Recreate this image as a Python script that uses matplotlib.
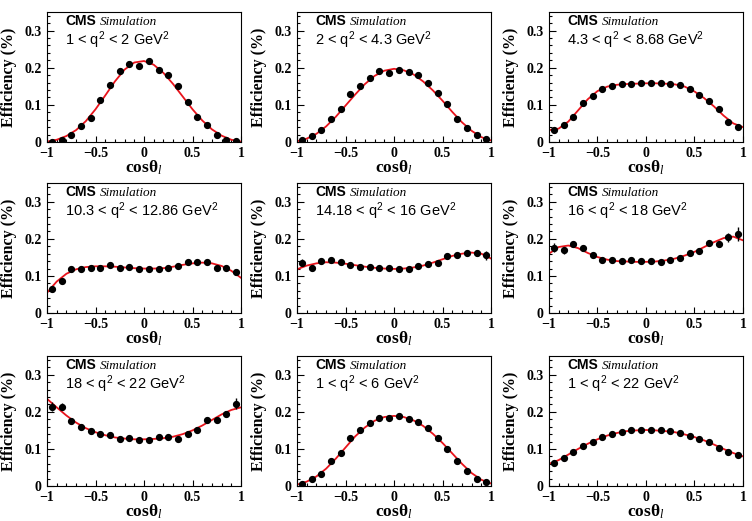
import matplotlib
matplotlib.use("Agg")
import matplotlib.pyplot as plt
from matplotlib.ticker import MultipleLocator, FuncFormatter

plt.rcParams['mathtext.fontset'] = 'custom'
plt.rcParams['mathtext.rm'] = 'Liberation Serif'
plt.rcParams['mathtext.it'] = 'Liberation Serif:italic'
plt.rcParams['mathtext.bf'] = 'Liberation Serif:bold'
plt.rcParams['mathtext.sf'] = 'Liberation Sans'

bin_centres = [-0.95, -0.85, -0.75, -0.65, -0.55, -0.45, -0.35, -0.25, -0.15, -0.05,
               0.05, 0.15, 0.25, 0.35, 0.45, 0.55, 0.65, 0.75, 0.85, 0.95]
curve_x = [-1.0, -0.9, -0.8, -0.7, -0.6, -0.5, -0.4, -0.3, -0.2, -0.1, 0.0,
           0.1, 0.2, 0.3, 0.4, 0.5, 0.6, 0.7, 0.8, 0.9, 1.0]

labels = ["1 < q$\\mathsf{^2}$ < 2 GeV$\\mathsf{^2}$",
          "2 < q$\\mathsf{^2}$ < 4.3 GeV$\\mathsf{^2}$",
          "4.3 < q$\\mathsf{^2}$ < 8.68 GeV$\\mathsf{^2}$",
          "10.3 < q$\\mathsf{^2}$ < 12.86 GeV$\\mathsf{^2}$",
          "14.18 < q$\\mathsf{^2}$ < 16 GeV$\\mathsf{^2}$",
          "16 < q$\\mathsf{^2}$ < 18 GeV$\\mathsf{^2}$",
          "18 < q$\\mathsf{^2}$ < 22 GeV$\\mathsf{^2}$",
          "1 < q$\\mathsf{^2}$ < 6 GeV$\\mathsf{^2}$",
          "1 < q$\\mathsf{^2}$ < 22 GeV$\\mathsf{^2}$"]

eff_1 = [0.001, 0.004, 0.018, 0.042, 0.065, 0.114, 0.153, 0.191, 0.211, 0.204,
         0.217, 0.194, 0.181, 0.150, 0.107, 0.067, 0.045, 0.020, 0.004, 0.002]
eff_2 = [0.004, 0.016, 0.031, 0.062, 0.088, 0.128, 0.152, 0.172, 0.191, 0.185,
         0.195, 0.188, 0.179, 0.158, 0.131, 0.101, 0.061, 0.037, 0.020, 0.007]
eff_3 = [0.031, 0.046, 0.068, 0.105, 0.123, 0.142, 0.150, 0.157, 0.155, 0.159,
         0.158, 0.159, 0.157, 0.154, 0.142, 0.127, 0.110, 0.088, 0.053, 0.041]
eff_4 = [0.066, 0.087, 0.120, 0.118, 0.122, 0.122, 0.129, 0.122, 0.124, 0.120,
         0.119, 0.120, 0.122, 0.128, 0.137, 0.138, 0.138, 0.122, 0.121, 0.111]
eff_5 = [0.136, 0.122, 0.139, 0.142, 0.138, 0.129, 0.124, 0.124, 0.121, 0.122,
         0.118, 0.120, 0.128, 0.133, 0.135, 0.154, 0.156, 0.162, 0.161, 0.156]
eff_6 = [0.176, 0.169, 0.187, 0.175, 0.157, 0.143, 0.142, 0.139, 0.143, 0.139,
         0.139, 0.138, 0.143, 0.149, 0.163, 0.167, 0.190, 0.185, 0.204, 0.213]
eff_7 = [0.214, 0.214, 0.176, 0.160, 0.148, 0.141, 0.138, 0.126, 0.129, 0.124,
         0.124, 0.133, 0.132, 0.128, 0.141, 0.151, 0.177, 0.178, 0.193, 0.222]
eff_8 = [0.005, 0.018, 0.033, 0.067, 0.090, 0.130, 0.151, 0.171, 0.184, 0.184,
         0.188, 0.181, 0.172, 0.157, 0.129, 0.100, 0.068, 0.041, 0.020, 0.010]
eff_9 = [0.063, 0.076, 0.093, 0.108, 0.119, 0.132, 0.141, 0.146, 0.150, 0.150,
         0.150, 0.150, 0.147, 0.142, 0.136, 0.128, 0.119, 0.103, 0.091, 0.085]

err_1 = [0.001, 0.002, 0.002, 0.003, 0.003, 0.003, 0.003, 0.003, 0.003, 0.003,
         0.003, 0.003, 0.003, 0.003, 0.003, 0.003, 0.003, 0.002, 0.002, 0.001]
err_2 = [0.001, 0.002, 0.002, 0.002, 0.003, 0.003, 0.003, 0.003, 0.003, 0.003,
         0.003, 0.003, 0.003, 0.003, 0.003, 0.003, 0.002, 0.002, 0.002, 0.001]
err_3 = [0.003, 0.002, 0.002, 0.002, 0.002, 0.002, 0.002, 0.002, 0.002, 0.002,
         0.002, 0.002, 0.002, 0.002, 0.002, 0.002, 0.002, 0.002, 0.002, 0.003]
err_4 = [0.005, 0.004, 0.004, 0.003, 0.003, 0.003, 0.003, 0.003, 0.003, 0.003,
         0.003, 0.003, 0.003, 0.003, 0.003, 0.003, 0.004, 0.004, 0.005, 0.008]
err_5 = [0.010, 0.007, 0.005, 0.004, 0.004, 0.003, 0.003, 0.003, 0.003, 0.003,
         0.003, 0.003, 0.003, 0.003, 0.004, 0.004, 0.005, 0.006, 0.008, 0.012]
err_6 = [0.012, 0.010, 0.007, 0.005, 0.004, 0.004, 0.003, 0.003, 0.003, 0.003,
         0.003, 0.003, 0.003, 0.004, 0.004, 0.005, 0.006, 0.007, 0.012, 0.018]
err_7 = [0.012, 0.010, 0.006, 0.005, 0.004, 0.004, 0.003, 0.003, 0.003, 0.003,
         0.003, 0.003, 0.003, 0.003, 0.004, 0.004, 0.005, 0.006, 0.008, 0.015]
err_8 = [0.001, 0.001, 0.002, 0.002, 0.002, 0.002, 0.002, 0.002, 0.002, 0.002,
         0.002, 0.002, 0.002, 0.002, 0.002, 0.002, 0.002, 0.002, 0.001, 0.001]
err_9 = [0.002, 0.002, 0.001, 0.001, 0.001, 0.001, 0.001, 0.001, 0.001, 0.001,
         0.001, 0.001, 0.001, 0.001, 0.001, 0.001, 0.001, 0.001, 0.002, 0.002]

fit_1 = [0.001, 0.006, 0.016, 0.032, 0.056, 0.088, 0.125, 0.163, 0.195, 0.214, 0.218,
         0.208, 0.186, 0.156, 0.122, 0.088, 0.058, 0.034, 0.017, 0.006, 0.001]
fit_2 = [0.002, 0.009, 0.022, 0.042, 0.068, 0.098, 0.128, 0.156, 0.178, 0.192, 0.197,
         0.193, 0.182, 0.163, 0.139, 0.111, 0.081, 0.053, 0.030, 0.013, 0.004]
fit_3 = [0.032, 0.036, 0.055, 0.085, 0.115, 0.137, 0.149, 0.154, 0.156, 0.157, 0.158,
         0.158, 0.157, 0.155, 0.149, 0.136, 0.118, 0.096, 0.071, 0.050, 0.040]
fit_4 = [0.055, 0.085, 0.106, 0.118, 0.124, 0.126, 0.126, 0.125, 0.123, 0.121, 0.120,
         0.120, 0.121, 0.125, 0.130, 0.134, 0.136, 0.134, 0.127, 0.114, 0.095]
fit_5 = [0.118, 0.128, 0.134, 0.137, 0.136, 0.133, 0.129, 0.125, 0.122, 0.120, 0.119,
         0.120, 0.123, 0.128, 0.136, 0.145, 0.154, 0.160, 0.163, 0.160, 0.147]
fit_6 = [0.160, 0.178, 0.182, 0.175, 0.162, 0.151, 0.144, 0.140, 0.139, 0.138, 0.138,
         0.139, 0.142, 0.147, 0.155, 0.165, 0.178, 0.191, 0.202, 0.206, 0.196]
fit_7 = [0.235, 0.212, 0.190, 0.171, 0.156, 0.145, 0.137, 0.131, 0.128, 0.126, 0.126,
         0.127, 0.129, 0.133, 0.140, 0.150, 0.163, 0.178, 0.193, 0.205, 0.212]
fit_8 = [0.004, 0.012, 0.026, 0.047, 0.074, 0.104, 0.134, 0.158, 0.176, 0.186, 0.189,
         0.186, 0.177, 0.162, 0.141, 0.116, 0.088, 0.060, 0.035, 0.017, 0.007]
fit_9 = [0.060, 0.070, 0.085, 0.100, 0.114, 0.126, 0.136, 0.143, 0.148, 0.150, 0.151,
         0.150, 0.148, 0.145, 0.139, 0.132, 0.123, 0.112, 0.100, 0.089, 0.080]

effs = [eff_1, eff_2, eff_3, eff_4, eff_5, eff_6, eff_7, eff_8, eff_9]
errs = [err_1, err_2, err_3, err_4, err_5, err_6, err_7, err_8, err_9]
fits = [fit_1, fit_2, fit_3, fit_4, fit_5, fit_6, fit_7, fit_8, fit_9]

lefts = [0.0625, 0.395, 0.730]
bottoms = [0.7275, 0.399, 0.067]
width = 0.258
height = 0.2495


def fmt(v, pos):
    if abs(v) < 1e-9:
        return "0"
    s = ("%g" % v).replace("-", "\u2212")
    return s


fig = plt.figure(figsize=(7.52, 5.21), dpi=100)
serif_bold = dict(family='Liberation Serif', weight='bold')

for i in range(9):
    ax = fig.add_axes([lefts[i % 3], bottoms[i // 3], width, height])
    ax.plot(curve_x, fits[i], color='#e8131b', lw=1.3, zorder=2)
    ax.errorbar(bin_centres, effs[i], yerr=errs[i], fmt='o', color='black',
                ms=4.2, elinewidth=1.0, capsize=0, zorder=3)
    ax.set_xlim(-1, 1)
    ax.set_ylim(0, 0.35)
    ax.xaxis.set_major_locator(MultipleLocator(0.5))
    ax.xaxis.set_minor_locator(MultipleLocator(0.1))
    ax.yaxis.set_major_locator(MultipleLocator(0.1))
    ax.yaxis.set_minor_locator(MultipleLocator(0.02))
    ax.xaxis.set_major_formatter(FuncFormatter(fmt))
    ax.yaxis.set_major_formatter(FuncFormatter(fmt))
    ax.tick_params(which='both', direction='in', top=False, right=False)
    ax.tick_params(axis='x', which='major', length=4, width=0.8, pad=3.5)
    ax.tick_params(axis='x', which='minor', length=2, width=0.8)
    ax.tick_params(axis='y', which='major', length=5, width=0.8, pad=4)
    ax.tick_params(axis='y', which='minor', length=2.5, width=0.8)
    for lab in ax.get_xticklabels() + ax.get_yticklabels():
        lab.set_fontfamily('Liberation Serif')
        lab.set_fontweight('bold')
        lab.set_fontsize(10)
    for sp in ax.spines.values():
        sp.set_linewidth(0.8)
    ax.set_xlabel(r'$\mathbf{cos\theta}_{\mathit{l}}$', fontsize=12.5, labelpad=-1)
    ax.set_ylabel('Efficiency (%)', fontsize=11.5, labelpad=5, **serif_bold)
    cms = ax.text(0.093, 0.90, 'CMS', transform=ax.transAxes, fontsize=10,
                  family='Liberation Sans', weight='bold', va='baseline')
    ax.annotate('Simulation', xy=(1, 0), xycoords=cms, xytext=(3, 0),
                textcoords='offset points', fontsize=9.5,
                family='Liberation Serif', style='italic', va='bottom')
    ax.text(0.093, 0.745, labels[i], transform=ax.transAxes, fontsize=10.5,
            family='Liberation Sans', va='baseline')

fig.savefig('out.png', dpi=100)
